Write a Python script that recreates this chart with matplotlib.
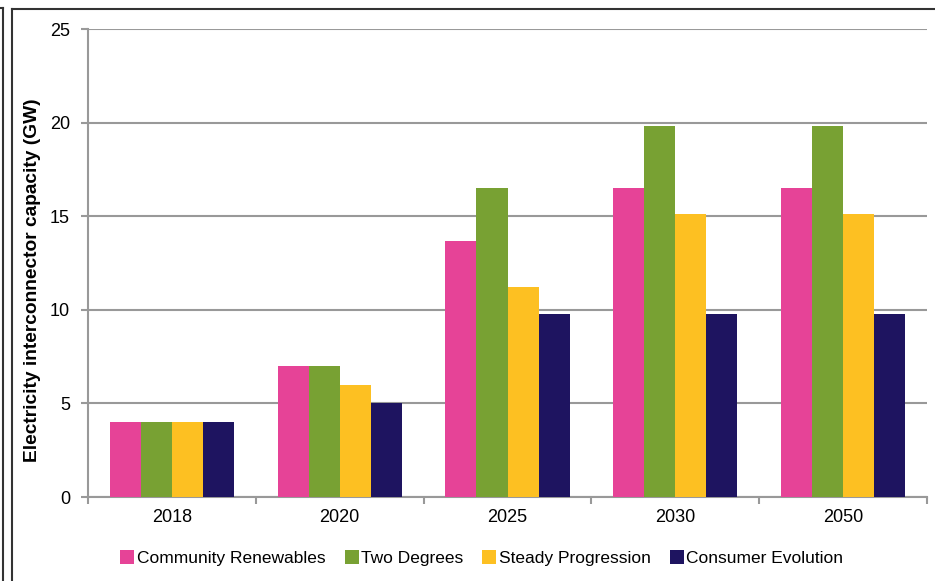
import matplotlib
matplotlib.use("Agg")
import matplotlib.pyplot as plt
import numpy as np
from matplotlib.lines import Line2D

categories = ["2018", "2020", "2025", "2030", "2050"]
series_names = ["Community Renewables", "Two Degrees", "Steady Progression", "Consumer Evolution"]
community_renewables = [4, 7, 13.7, 16.5, 16.5]
two_degrees = [4, 7, 16.5, 19.8, 19.8]
steady_progression = [4, 6, 11.2, 15.1, 15.1]
consumer_evolution = [4, 5, 9.8, 9.8, 9.8]
y_ticks = [0, 5, 10, 15, 20, 25]

colors = ["#E64397", "#78A133", "#FDC022", "#1E1460"]
series = [community_renewables, two_degrees, steady_progression, consumer_evolution]

plt.rcParams['font.family'] = ['Liberation Sans', 'DejaVu Sans']

fig = plt.figure(figsize=(9.35, 5.81), dpi=100)
W, H = 935, 581
ax = fig.add_axes([88 / W, 1 - 497 / H, (927 - 88) / W, (497 - 29) / H])

x = np.arange(len(categories))
bw = 0.185
for i, (vals, c, name) in enumerate(zip(series, colors, series_names)):
    ax.bar(x + (i - 1.5) * bw, vals, width=bw, color=c, label=name, zorder=3, linewidth=0)

ax.set_xlim(-0.5, len(categories) - 0.5)
ax.set_ylim(0, 25)
ax.set_yticks(y_ticks)
ax.set_yticklabels([str(t) for t in y_ticks], fontsize=13)
ax.set_xticks(x)
ax.set_xticklabels(categories, fontsize=13)
ax.set_xticks(np.arange(-0.5, len(categories)), minor=True)
ax.tick_params(axis='x', which='major', length=0, pad=9)
ax.tick_params(axis='x', which='minor', length=5, color="#999999", width=1.5)
ax.tick_params(axis='y', length=5, color="#999999", width=1.5, pad=8)
ax.grid(axis='y', color="#999999", linewidth=1.5, zorder=0)
for s in ["top", "right"]:
    ax.spines[s].set_visible(False)
for s in ["left", "bottom"]:
    ax.spines[s].set_color("#999999")
    ax.spines[s].set_linewidth(1.5)

ax.set_ylabel("Electricity interconnector capacity (GW)", fontsize=13.8, fontweight='bold')
ax.yaxis.set_label_coords(-(88 - 33) / (927 - 88), (497 - 280) / (497 - 29))
ax.yaxis.label.set_va('center')

handles = [Line2D([], [], marker='s', linestyle='none', markersize=10.5, markerfacecolor=c, markeredgewidth=0) for c in colors]
fig.legend(handles, series_names, loc='center', bbox_to_anchor=(481 / W, 1 - 558 / H), ncol=4,
           frameon=False, fontsize=12.5, handletextpad=0.05, columnspacing=1.0, handlelength=1.0)

# outer frame lines
fig.add_artist(Line2D([3 / W, 3 / W], [0, 1 - 8 / H], color="#333333", linewidth=1.5, transform=fig.transFigure))
fig.add_artist(Line2D([0, 3 / W], [1 - 8 / H, 1 - 8 / H], color="#333333", linewidth=1.5, transform=fig.transFigure))
fig.add_artist(Line2D([12 / W, 12 / W], [0, 1 - 9 / H], color="#333333", linewidth=1.5, transform=fig.transFigure))
fig.add_artist(Line2D([12 / W, 1], [1 - 9 / H, 1 - 9 / H], color="#333333", linewidth=1.5, transform=fig.transFigure))

fig.savefig("out.png", dpi=100)
